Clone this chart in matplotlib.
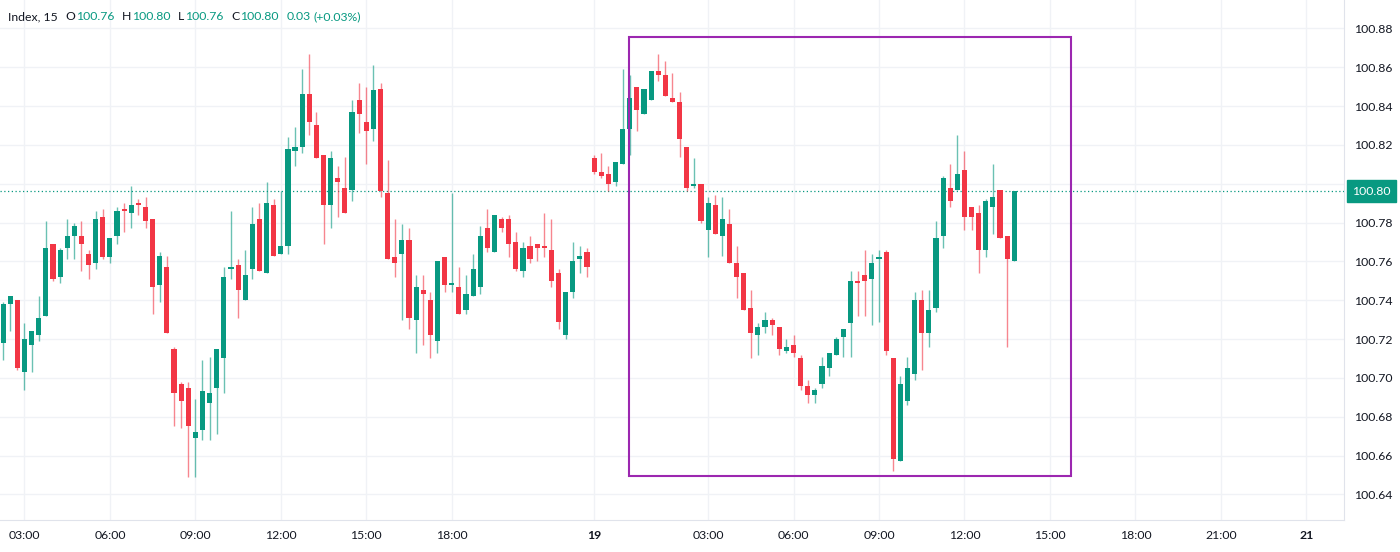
import matplotlib
matplotlib.use("Agg")
import matplotlib.pyplot as plt
from matplotlib.patches import Rectangle

plt.rcParams["font.family"] = ["Lato", "DejaVu Sans"]

# 15-minute candles, first bar at 02:15 on the 18th
opens = [
    100.718, 100.738, 100.740, 100.703, 100.717, 100.722, 100.732, 100.769, 100.752, 100.767,
    100.773, 100.773, 100.764, 100.759, 100.783, 100.762, 100.773, 100.787, 100.785, 100.790,
    100.788, 100.782, 100.748, 100.757, 100.715, 100.697, 100.695, 100.669, 100.673, 100.687,
    100.695, 100.710, 100.756, 100.758, 100.740, 100.756, 100.782, 100.754, 100.789, 100.764,
    100.768, 100.817, 100.819, 100.846, 100.830, 100.815, 100.789, 100.803, 100.798, 100.797,
    100.843, 100.832, 100.828, 100.849, 100.795, 100.762, 100.764, 100.771, 100.730, 100.745,
    100.740, 100.719, 100.762, 100.748, 100.747, 100.735, 100.742, 100.747, 100.777, 100.765,
    100.782, 100.782, 100.770, 100.755, 100.768, 100.769, 100.768, 100.766, 100.754, 100.722,
    100.744, 100.761, 100.765, 100.813, 100.806, 100.805, 100.801, 100.810, 100.828, 100.850,
    100.836, 100.843, 100.858, 100.856, 100.844, 100.842, 100.819, 100.799, 100.800, 100.776,
    100.789, 100.773, 100.779, 100.759, 100.754, 100.736, 100.722, 100.726, 100.730, 100.726,
    100.714, 100.717, 100.710, 100.696, 100.691, 100.697, 100.705, 100.712, 100.721, 100.728,
    100.750, 100.753, 100.751, 100.761, 100.765, 100.710, 100.657, 100.688, 100.702, 100.740,
    100.723, 100.736, 100.773, 100.798, 100.797, 100.807, 100.788, 100.785, 100.766, 100.788,
    100.797, 100.773, 100.760,
]
highs = [
    100.739, 100.742, 100.740, 100.728, 100.724, 100.742, 100.781, 100.769, 100.767, 100.782,
    100.780, 100.781, 100.766, 100.786, 100.787, 100.772, 100.788, 100.790, 100.799, 100.792,
    100.793, 100.782, 100.765, 100.763, 100.716, 100.698, 100.698, 100.689, 100.709, 100.711,
    100.715, 100.757, 100.786, 100.761, 100.766, 100.788, 100.790, 100.801, 100.792, 100.796,
    100.824, 100.829, 100.859, 100.867, 100.837, 100.815, 100.817, 100.809, 100.814, 100.843,
    100.852, 100.850, 100.861, 100.852, 100.812, 100.782, 100.779, 100.777, 100.753, 100.753,
    100.744, 100.760, 100.762, 100.795, 100.757, 100.753, 100.764, 100.778, 100.787, 100.784,
    100.783, 100.784, 100.775, 100.770, 100.773, 100.769, 100.785, 100.782, 100.756, 100.744,
    100.770, 100.768, 100.767, 100.815, 100.816, 100.809, 100.811, 100.859, 100.856, 100.850,
    100.849, 100.858, 100.867, 100.863, 100.857, 100.847, 100.819, 100.813, 100.800, 100.793,
    100.794, 100.793, 100.787, 100.768, 100.754, 100.745, 100.728, 100.734, 100.731, 100.726,
    100.720, 100.722, 100.712, 100.699, 100.695, 100.711, 100.713, 100.721, 100.725, 100.755,
    100.755, 100.766, 100.764, 100.766, 100.766, 100.710, 100.701, 100.711, 100.744, 100.745,
    100.745, 100.781, 100.804, 100.810, 100.825, 100.817, 100.788, 100.789, 100.792, 100.810,
    100.797, 100.773, 100.796,
]
lows = [
    100.709, 100.724, 100.704, 100.694, 100.703, 100.719, 100.732, 100.750, 100.749, 100.761,
    100.761, 100.755, 100.751, 100.756, 100.761, 100.759, 100.769, 100.775, 100.777, 100.784,
    100.777, 100.733, 100.739, 100.723, 100.675, 100.674, 100.649, 100.649, 100.668, 100.668,
    100.671, 100.692, 100.751, 100.731, 100.740, 100.751, 100.755, 100.754, 100.763, 100.764,
    100.764, 100.809, 100.816, 100.825, 100.813, 100.769, 100.777, 100.783, 100.785, 100.791,
    100.826, 100.810, 100.822, 100.793, 100.761, 100.752, 100.730, 100.725, 100.713, 100.717,
    100.710, 100.713, 100.744, 100.744, 100.733, 100.733, 100.742, 100.743, 100.765, 100.765,
    100.775, 100.762, 100.755, 100.752, 100.759, 100.760, 100.762, 100.747, 100.725, 100.720,
    100.741, 100.754, 100.752, 100.805, 100.803, 100.796, 100.799, 100.810, 100.815, 100.827,
    100.836, 100.843, 100.853, 100.845, 100.842, 100.814, 100.796, 100.798, 100.780, 100.762,
    100.774, 100.763, 100.759, 100.741, 100.735, 100.710, 100.712, 100.723, 100.722, 100.712,
    100.713, 100.711, 100.694, 100.687, 100.687, 100.695, 100.701, 100.712, 100.711, 100.711,
    100.732, 100.732, 100.727, 100.729, 100.712, 100.652, 100.657, 100.686, 100.699, 100.704,
    100.716, 100.734, 100.767, 100.788, 100.797, 100.776, 100.776, 100.754, 100.762, 100.774,
    100.772, 100.716, 100.760,
]
closes = [
    100.738, 100.742, 100.705, 100.720, 100.724, 100.731, 100.767, 100.751, 100.766, 100.773,
    100.778, 100.769, 100.758, 100.782, 100.762, 100.772, 100.786, 100.786, 100.789, 100.789,
    100.781, 100.747, 100.763, 100.723, 100.692, 100.688, 100.675, 100.672, 100.693, 100.692,
    100.715, 100.752, 100.757, 100.745, 100.753, 100.779, 100.755, 100.790, 100.763, 100.768,
    100.818, 100.819, 100.846, 100.832, 100.813, 100.789, 100.813, 100.801, 100.785, 100.837,
    100.836, 100.827, 100.848, 100.796, 100.761, 100.759, 100.771, 100.731, 100.747, 100.743,
    100.722, 100.760, 100.748, 100.749, 100.733, 100.743, 100.756, 100.773, 100.767, 100.784,
    100.777, 100.769, 100.756, 100.767, 100.761, 100.767, 100.767, 100.750, 100.729, 100.744,
    100.760, 100.763, 100.757, 100.806, 100.804, 100.800, 100.811, 100.828, 100.844, 100.838,
    100.849, 100.858, 100.856, 100.845, 100.842, 100.823, 100.798, 100.800, 100.781, 100.790,
    100.774, 100.782, 100.759, 100.752, 100.735, 100.723, 100.726, 100.730, 100.727, 100.715,
    100.716, 100.713, 100.696, 100.691, 100.694, 100.706, 100.713, 100.720, 100.725, 100.750,
    100.749, 100.750, 100.759, 100.762, 100.714, 100.658, 100.697, 100.705, 100.740, 100.723,
    100.735, 100.772, 100.803, 100.791, 100.805, 100.783, 100.783, 100.766, 100.791, 100.793,
    100.772, 100.761, 100.796,
]

# time axis labels (bar index -> label)
tick_bars = [3, 15, 27, 39, 51, 63, 83, 99, 111, 123, 135, 147, 159, 171, 183]
tick_labels = ["03:00", "06:00", "09:00", "12:00", "15:00", "18:00", "19",
               "03:00", "06:00", "09:00", "12:00", "15:00", "18:00", "21:00", "21"]
price_ticks = [100.64, 100.66, 100.68, 100.70, 100.72, 100.74, 100.76,
               100.78, 100.80, 100.82, 100.84, 100.86, 100.88]

# highlighted range
box_bars = (87.9, 149.9)
box_prices = (100.6495, 100.8755)

UP = "#089981"
DOWN = "#F23645"
TEXT = "#131722"
GRID = "#f0f2f6"

fig = plt.figure(figsize=(14, 5.52), dpi=100)
ax = fig.add_axes([0.0, 32 / 552, 1344 / 1400, 1 - 32 / 552])

idx = list(range(len(opens)))
colors = [UP if c >= o else DOWN for o, c in zip(opens, closes)]
ax.vlines(idx, lows, highs, colors=colors, linewidth=1.0, alpha=0.6, zorder=3)
bottoms = [min(o, c) for o, c in zip(opens, closes)]
heights = [max(abs(c - o), 0.0007) for o, c in zip(opens, closes)]
ax.bar(idx, heights, bottom=bottoms, width=0.72, color=colors, linewidth=0, zorder=4)

ax.set_xlim(-0.435, 188.3)
ax.set_ylim(100.6268, 100.8946)

ax.set_xticks(tick_bars)
ax.set_xticklabels(tick_labels)
for lbl, txt in zip(ax.get_xticklabels(), tick_labels):
    if ":" not in txt:
        lbl.set_fontweight("bold")
last = closes[-1]
ax.set_yticks(price_ticks)
# the 100.80 label sits under the last-price marker
ax.set_yticklabels(["" if abs(p - 100.80) < 1e-9 else f"{p:.2f}" for p in price_ticks])
ax.yaxis.tick_right()
ax.tick_params(axis="both", length=0, labelsize=8.8, labelcolor=TEXT)
ax.tick_params(axis="x", pad=7)
ax.tick_params(axis="y", pad=7)
ax.grid(True, color=GRID, linewidth=1.0, zorder=0)
ax.set_axisbelow(True)

for side in ["top", "left"]:
    ax.spines[side].set_visible(False)
ax.spines["bottom"].set_color("#e0e3eb")
ax.spines["right"].set_color("#e0e3eb")

ax.add_patch(Rectangle((box_bars[0], box_prices[0]), box_bars[1] - box_bars[0],
                       box_prices[1] - box_prices[0], fill=False,
                       edgecolor="#9c27b0", linewidth=1.5, zorder=5))

ax.axhline(last, color=UP, linestyle=(0, (1, 2)), linewidth=0.9, zorder=2)
ax.annotate("100.80", xy=(1.0, last), xycoords=("axes fraction", "data"),
            xytext=(6, 0), textcoords="offset points", ha="left", va="center",
            fontsize=8.8, color="white", annotation_clip=False,
            bbox=dict(boxstyle="square,pad=0.45", facecolor=UP, edgecolor=UP))

# header line: (text, colour, gap before it in points)
parts = [("Index, 15", TEXT, 0), ("O", TEXT, 5.5), ("100.76", UP, 0.5),
         ("H", TEXT, 5.5), ("100.80", UP, 0.5), ("L", TEXT, 5.5), ("100.76", UP, 0.5),
         ("C", TEXT, 5.5), ("100.80", UP, 0.5), ("0.03", UP, 5.5), ("(+0.03%)", UP, 2.5)]
prev = fig.text(8 / 1400, 1 - 17 / 552, parts[0][0], color=parts[0][1], fontsize=8.8,
                va="center", ha="left")
for txt, col, gap in parts[1:]:
    prev = ax.annotate(txt, xy=(1, 0.5), xycoords=prev, xytext=(gap, 0),
                       textcoords="offset points", va="center", ha="left",
                       fontsize=8.8, color=col, annotation_clip=False)

fig.savefig("out.png", dpi=100, facecolor="white")
